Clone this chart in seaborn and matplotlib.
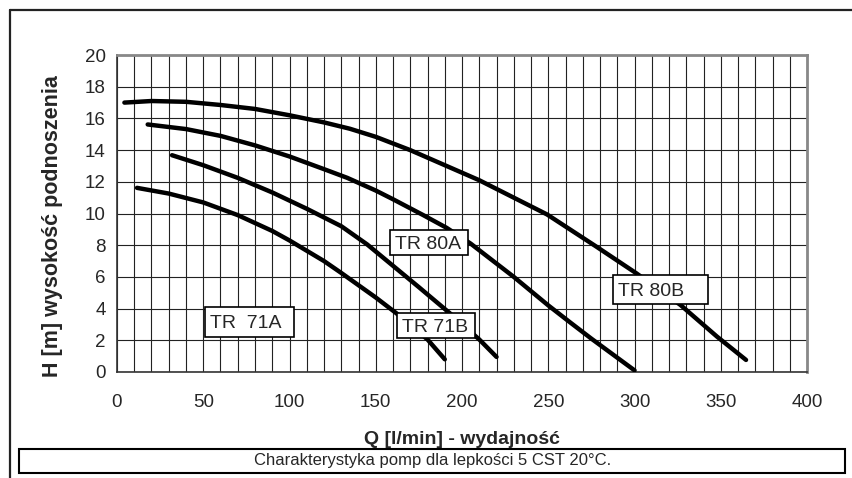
import matplotlib
matplotlib.use("Agg")
import matplotlib.pyplot as plt
from matplotlib.patches import Rectangle
from matplotlib.lines import Line2D
import pandas as pd
import seaborn as sns

# pump curves: Q [l/min], H [m]
q_71a = [11.6, 30, 50, 70, 90, 100, 120, 130, 150, 162, 180, 190]
h_71a = [11.62, 11.26, 10.7, 9.9, 8.9, 8.3, 7.0, 6.25, 4.7, 3.7, 2.05, 0.8]

q_71b = [31.9, 50, 70, 90, 110, 130, 145, 160, 175, 193, 210, 220]
h_71b = [13.68, 13.05, 12.25, 11.33, 10.3, 9.2, 8.05, 6.7, 5.35, 3.7, 2.05, 0.95]

q_80a = [17.8, 40, 60, 80, 100, 120, 133.5, 150, 160, 177.5, 191, 205, 230, 250, 263, 275, 300]
h_80a = [15.62, 15.33, 14.9, 14.3, 13.6, 12.8, 12.25, 11.45, 10.9, 9.9, 9.1, 8.1, 6.0, 4.2, 3.1, 2.1, 0.1]

q_80b = [4.3, 20, 40, 60, 80, 100, 120, 135, 150, 170, 190, 210, 230, 249.3, 278, 301, 326.6, 347.8, 364.6]
h_80b = [17.0, 17.1, 17.05, 16.85, 16.6, 16.2, 15.75, 15.35, 14.84, 14.0, 13.05, 12.1, 11.0, 9.94, 7.9, 6.23, 4.23, 2.23, 0.76]

pumps = ["TR 71A", "TR 71B", "TR 80A", "TR 80B"]
label_texts = ["TR  71A ", "TR 71B", "TR 80A", "TR 80B    "]

x_ticks = [0, 50, 100, 150, 200, 250, 300, 350, 400]
y_ticks = [0, 2, 4, 6, 8, 10, 12, 14, 16, 18, 20]

frames = []
for name, q, h in zip(pumps, [q_71a, q_71b, q_80a, q_80b], [h_71a, h_71b, h_80a, h_80b]):
    frames.append(pd.DataFrame({"Q": q, "H": h, "pump": name}))
df = pd.concat(frames, ignore_index=True)

sns.set_style("white")
plt.rcParams["font.family"] = ["Liberation Sans", "DejaVu Sans"]

fig = plt.figure(figsize=(8.52, 4.78), dpi=100)
ax = fig.add_axes([0.1373, 0.2218, 0.81, 0.663])

sns.lineplot(data=df, x="Q", y="H", hue="pump", palette=["black"] * 4,
             sort=False, estimator=None, linewidth=3.2, legend=False, ax=ax,
             solid_capstyle="round", zorder=3)

ax.set_xlim(0, 400)
ax.set_ylim(0, 20)
ax.set_xticks(x_ticks)
ax.set_xticks(range(0, 401, 10), minor=True)
ax.set_yticks(y_ticks)
ax.grid(True, which="both", axis="x", color="#222222", linewidth=0.8)
ax.grid(True, which="major", axis="y", color="#222222", linewidth=0.8)
ax.set_axisbelow(True)

ax.tick_params(axis="both", which="major", direction="out", length=5, width=1,
               labelsize=13.5, color="#333333", pad=4)
ax.tick_params(axis="x", which="minor", length=0)
ax.tick_params(axis="x", which="major", pad=11)
ax.tick_params(axis="y", which="major", pad=3)

for side in ["left", "bottom"]:
    ax.spines[side].set_color("#333333")
    ax.spines[side].set_linewidth(1.2)
for side in ["top", "right"]:
    ax.spines[side].set_color("#888888")
    ax.spines[side].set_linewidth(2)

ax.set_xlabel("Q [l/min] - wydajność", fontsize=14, fontweight="bold")
ax.set_ylabel("H [m] wysokość podnoszenia", fontsize=15.5, fontweight="bold")
ax.xaxis.set_label_coords(0.50, -0.186)
ax.yaxis.set_label_coords(-0.078, 0.46)

# label boxes (data coords)
boxes = [(51.2, 2.23, 51.6, 1.86), (162.4, 2.12, 45.2, 1.60),
         (158.4, 7.38, 45.2, 1.58), (287.4, 4.29, 54.9, 1.83)]
for text, (bx, by, bw, bh) in zip(label_texts, boxes):
    ax.add_patch(Rectangle((bx, by), bw, bh, facecolor="white", edgecolor="black",
                           linewidth=1.2, zorder=4))
    ax.text(bx + 2.8, by + bh / 2, text, fontsize=14, ha="left", va="center_baseline", zorder=5)

# caption box and outer frame
fig.add_artist(Rectangle((0.0223, 0.0105), 0.9695, 0.0508, transform=fig.transFigure,
                         facecolor="white", edgecolor="black", linewidth=1.5))
fig.text(0.508, 0.036, "Charakterystyka pomp dla lepkości 5 CST 20°C.",
         fontsize=12, ha="center", va="center")
fig.add_artist(Line2D([10 / 852, 1], [1 - 10 / 478, 1 - 10 / 478], transform=fig.transFigure,
                      color="#222222", linewidth=1.6))
fig.add_artist(Line2D([10 / 852, 10 / 852], [0, 1 - 10 / 478], transform=fig.transFigure,
                      color="#222222", linewidth=1.6))

fig.savefig("out.png", dpi=100, facecolor="white")
